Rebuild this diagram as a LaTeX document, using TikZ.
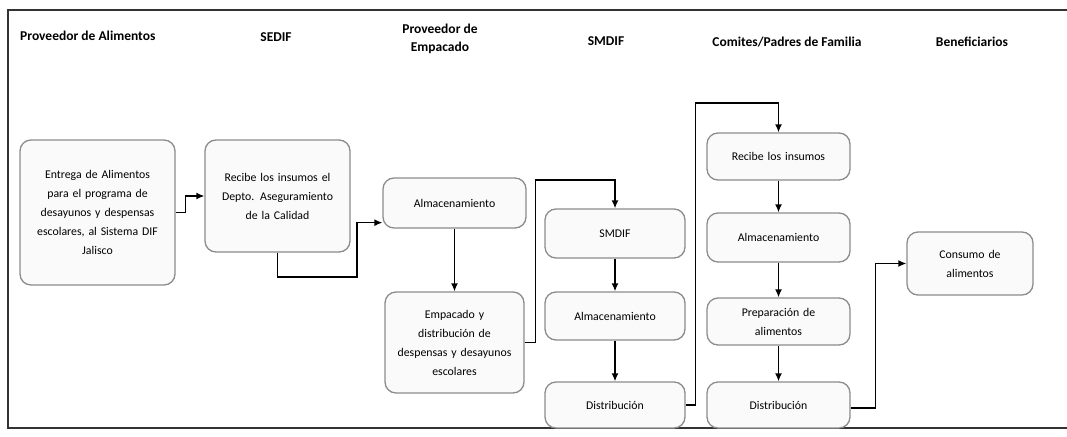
\documentclass[tikz,border=0pt]{standalone}
\usepackage{fontspec}
\setmainfont{Carlito}
\usetikzlibrary{arrows.meta,calc}
\definecolor{boxgray}{HTML}{8C8C8C}
\definecolor{boxfill}{HTML}{FAFAFA}
\definecolor{framegray}{HTML}{333333}
\tikzset{
  flowbox/.style={draw=boxgray, fill=boxfill, line width=1.3pt, rounded corners=11pt,
    inner sep=2pt, align=center, font=\fontsize{11.8}{19}\selectfont},
  header/.style={font=\bfseries\fontsize{13.5}{18}\selectfont, align=center, inner sep=0pt},
  arr/.style={draw=black, line width=1.4pt, -{Latex[length=8pt,width=7pt]}},
  framestyle/.style={draw=framegray, line width=1.1pt}
}
\newcommand{\boxat}[6]{% name, x1, y1, x2, y2, text
  \node[flowbox, minimum width={(#4-#2)*1pt}, minimum height={(#5-#3)*1pt},
        text width={(#4-#2-8)*1pt}] (#1) at ({(#2+#4)/2},{(#3+#5)/2}) {#6};}
\begin{document}
\begin{tikzpicture}[x=1pt,y=-1pt]
\useasboundingbox (0,0) rectangle (1067,436);
\fill[white] (0,0) rectangle (1067,436);
% frame
\coordinate (ftl) at (8,10);
\coordinate (ftr) at (1067,10);
\coordinate (fbl) at (8,428);
\coordinate (fbr) at (1067,428);
\draw[framestyle] (ftr) -- (ftl) -- (fbl) -- (fbr);
% headers
\node[header, anchor=west] (h1) at (20,36) {Proveedor de Alimentos};
\node[header] (h2) at (276,37) {SEDIF};
\node[header] (h3) at (440,39) {Proveedor de\\Empacado};
\node[header] (h4) at (606,41) {SMDIF};
\node[header] (h5) at (787,42) {Comites/Padres de Familia};
\node[header] (h6) at (972,42) {Beneficiarios};
% boxes
\boxat{b1}{20}{140}{175}{285}{Entrega de Alimentos\\para el programa de\\desayunos y despensas\\escolares, al Sistema DIF\\Jalisco}
\boxat{b2}{205}{140}{350}{252}{Recibe los insumos el\\Depto. Aseguramiento\\de la Calidad}
\boxat{b3}{383}{178}{526}{228}{Almacenamiento}
\boxat{b4}{385}{292}{524}{393}{Empacado y\\distribución de\\despensas y desayunos\\escolares}
\boxat{b5}{545}{209}{685}{258}{SMDIF}
\boxat{b6}{545}{292}{685}{340}{Almacenamiento}
\boxat{b7}{545}{382}{685}{428}{Distribución}
\boxat{b8}{707}{133}{850}{180}{Recibe los insumos}
\boxat{b9}{707}{213}{850}{262}{Almacenamiento}
\boxat{b10}{707}{298}{850}{345}{Preparación de\\alimentos}
\boxat{b11}{707}{382}{850}{428}{Distribución}
\boxat{b12}{907}{232}{1033}{295}{Consumo de\\alimentos}
% connectors
\draw[arr] (b1.east) -- ++(10,0) |- (b2.west);
\draw[arr] (b2.south) |- (357,277) |- ($(b3.south west)+(0,-6)$);
\draw[arr] (b3.south) -- (b4.north);
\draw[arr] (b4.east) -- ++(11,0) |- (615,180) -- (b5.north);
\draw[arr] (b5.south) -- (b6.north);
\draw[arr] (b6.south) -- (b7.north);
\draw[arr] (b7.east) -- ++(10,0) |- (778.5,103) -- (b8.north);
\draw[arr] (b8.south) -- (b9.north);
\draw[arr] (b9.south) -- (b10.north);
\draw[arr] (b10.south) -- (b11.north);
\draw[arr] ($(b11.east)+(0,3)$) -- ++(25,0) |- (b12.west);
\end{tikzpicture}
\end{document}
